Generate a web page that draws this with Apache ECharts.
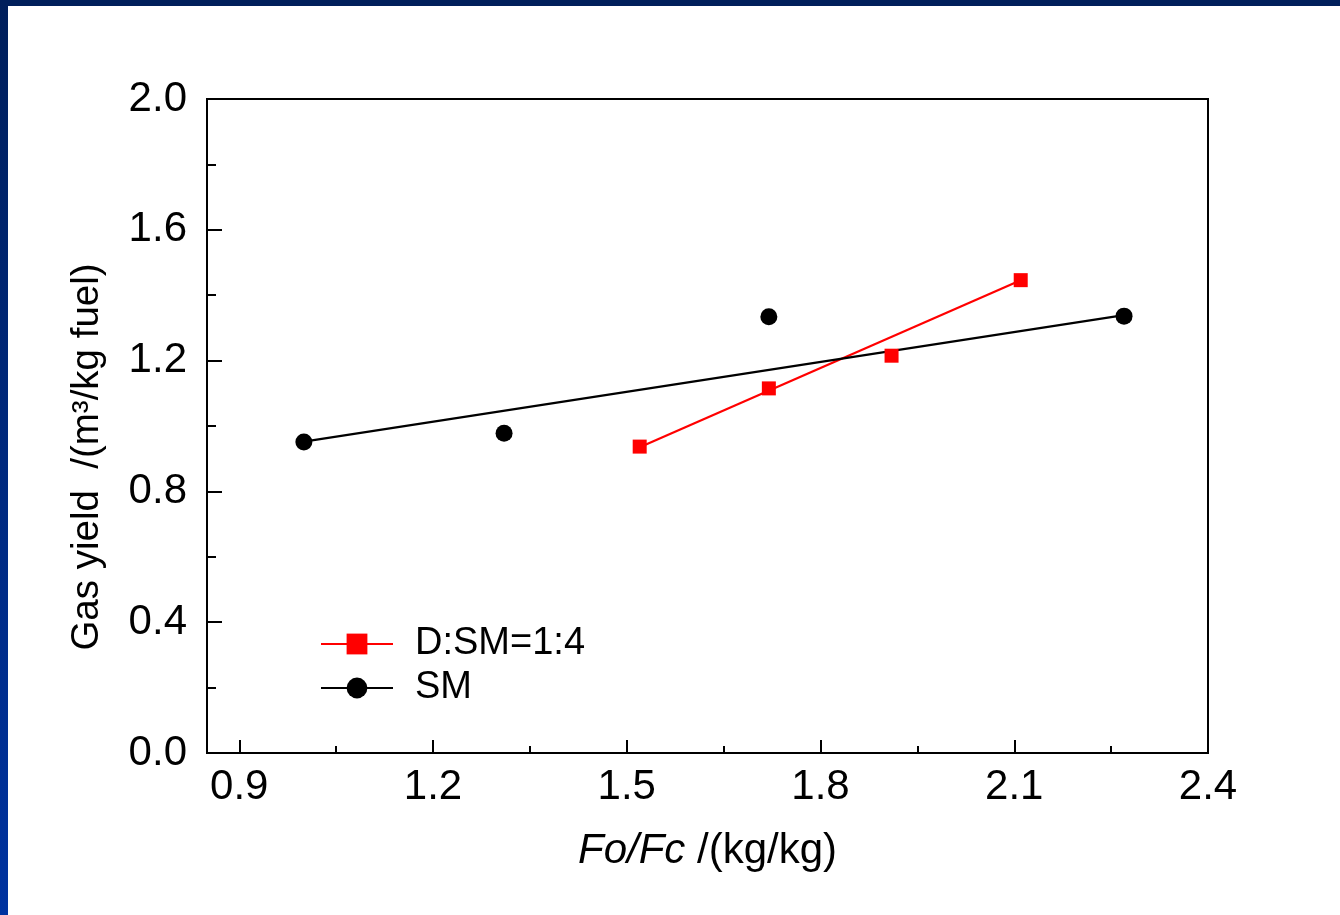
<!DOCTYPE html>
<html>
<head>
<meta charset="utf-8">
<script src="https://cdn.jsdelivr.net/npm/echarts@6/dist/echarts.min.js"></script>
<style>
html,body{margin:0;padding:0;background:#fff;}
#chart{width:1340px;height:915px;}
</style>
</head>
<body>
<div id="chart"></div>
<script>
// Data
const seriesNames = ['D:SM=1:4', 'SM'];
const xD = [1.52, 1.72, 1.91, 2.11];
const yD = [0.937, 1.115, 1.215, 1.446];
const xSM = [1.00, 1.31, 1.72, 2.27];
const ySM = [0.951, 0.978, 1.334, 1.336];
// linear fit lines (end points)
const fitDx = [1.52, 2.11];
const fitDy = [0.935, 1.446];
const fitSMx = [1.00, 2.27];
const fitSMy = [0.952, 1.339];
// axis ticks
const xMajorTicks = [0.9, 1.2, 1.5, 1.8, 2.1, 2.4];
const xMinorTicks = [1.05, 1.35, 1.65, 1.95, 2.25];

const zip = (a, b) => a.map((v, i) => [v, b[i]]);
const FONT = '"Liberation Sans", Arial, sans-serif';

const chart = echarts.init(document.getElementById('chart'), null, {renderer: 'canvas'});
chart.setOption({
  animation: false,
  backgroundColor: '#fff',
  graphic: [
    {type: 'rect', left: 0, top: 0, z: 100, shape: {width: 1340, height: 6},
     style: {fill: '#001f5b'}},
    {type: 'rect', left: 0, top: 0, z: 100, shape: {width: 8, height: 915},
     style: {fill: new echarts.graphic.LinearGradient(0, 0, 0, 1, [
       {offset: 0, color: '#001f5b'}, {offset: 1, color: '#0033a0'}])}}
  ],
  grid: {left: 207, right: 132, top: 99, bottom: 162, show: true,
         borderColor: '#000', borderWidth: 2, backgroundColor: 'transparent'},
  legend: {
    orient: 'vertical', left: 315, top: 620,
    itemWidth: 72, itemHeight: 26, itemGap: 6,
    data: seriesNames,
    textStyle: {fontFamily: FONT, fontSize: 38, color: '#000', padding: [0, 0, 0, 17]}
  },
  xAxis: [{
    type: 'value', min: 0.85, max: 2.4, position: 'bottom',
    name: '{i|Fo/Fc} /(kg/kg)', nameLocation: 'middle', nameGap: 77,
    nameTextStyle: {fontFamily: FONT, fontSize: 42, color: '#000',
      rich: {i: {fontFamily: FONT, fontSize: 42, fontStyle: 'italic', color: '#000'}}},
    axisLine: {show: true, onZero: false, lineStyle: {color: '#000', width: 2}},
    axisTick: {show: true, inside: true, length: 13, customValues: xMajorTicks,
               lineStyle: {color: '#000', width: 2}},
    axisLabel: {show: true, customValues: xMajorTicks, margin: 13,
                fontFamily: FONT, fontSize: 42, color: '#000',
                formatter: v => v.toFixed(1)},
    splitLine: {show: false}
  }, {
    type: 'value', min: 0.85, max: 2.4, position: 'bottom', offset: 0,
    axisLine: {show: false},
    axisTick: {show: true, inside: true, length: 7, customValues: xMinorTicks,
               lineStyle: {color: '#000', width: 2}},
    axisLabel: {show: false},
    splitLine: {show: false}
  }],
  yAxis: {
    type: 'value', min: 0, max: 2.0, interval: 0.4,
    name: 'Gas yield  /(m³/kg fuel)', nameLocation: 'middle', nameGap: 100,
    nameTextStyle: {fontFamily: FONT, fontSize: 38.5, color: '#000', padding: [0, 62, 0, 0]},
    axisLine: {show: true, onZero: false, lineStyle: {color: '#000', width: 2}},
    axisTick: {show: true, inside: true, length: 15, lineStyle: {color: '#000', width: 2}},
    minorTick: {show: true, splitNumber: 2, length: 9, lineStyle: {color: '#000', width: 2}},
    axisLabel: {margin: 20, fontFamily: FONT, fontSize: 42, color: '#000',
                formatter: v => v.toFixed(1)},
    splitLine: {show: false},
    minorSplitLine: {show: false}
  },
  series: [
    {name: seriesNames[0], type: 'line', data: zip(fitDx, fitDy),
     symbol: 'rect', showSymbol: false, symbolSize: 14,
     lineStyle: {color: '#ff0000', width: 2.2}, itemStyle: {color: '#ff0000'}, z: 2},
    {name: seriesNames[1], type: 'line', data: zip(fitSMx, fitSMy),
     symbol: 'circle', showSymbol: false, symbolSize: 17,
     lineStyle: {color: '#000', width: 2.2}, itemStyle: {color: '#000'}, z: 2},
    {name: seriesNames[0], type: 'scatter', data: zip(xD, yD),
     symbol: 'rect', symbolSize: 14, itemStyle: {color: '#ff0000', opacity: 1}, z: 3},
    {name: seriesNames[1], type: 'scatter', data: zip(xSM, ySM),
     symbol: 'circle', symbolSize: 17, itemStyle: {color: '#000', opacity: 1}, z: 3}
  ]
});
</script>
</body>
</html>
